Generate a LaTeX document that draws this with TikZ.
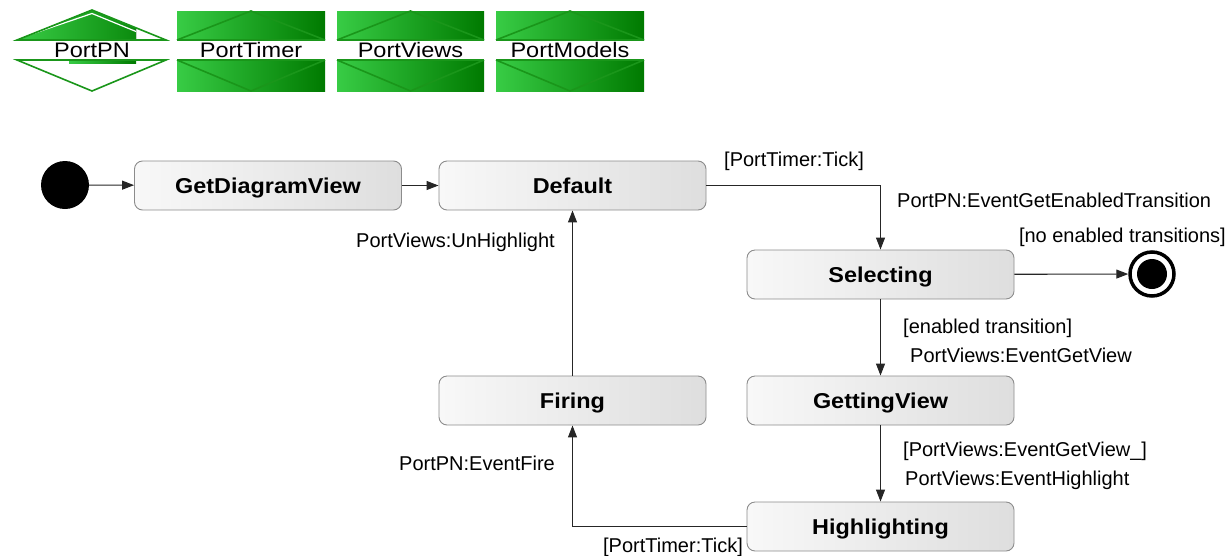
\documentclass[tikz,border=0pt]{standalone}
\usepackage{fontspec}
\setmainfont{Liberation Sans}
\usetikzlibrary{arrows.meta}

\definecolor{portlight}{HTML}{38CC45}
\definecolor{portdark}{HTML}{007A00}
\definecolor{portline}{HTML}{1A961A}
\definecolor{statelight}{HTML}{F8F8F8}
\definecolor{statedark}{HTML}{DEDEDE}
\definecolor{stateline}{HTML}{8C8C8C}

\begin{document}
\begin{tikzpicture}[x=1pt,y=-1pt,
  state/.style={draw=stateline, line width=0.9pt, rounded corners=8pt,
    left color=statelight, right color=statedark,
    minimum width=267pt, minimum height=49pt, inner sep=0pt,
    text height=15.5pt, text depth=0pt,
    font=\fontsize{21.5}{25}\selectfont\bfseries\addfontfeature{FakeStretch=1.09}},
  lbl/.style={font=\fontsize{20}{24}\selectfont, inner sep=0pt},
  trans/.style={draw=black!85, line width=1.1pt,
    -{Triangle[length=12pt,width=9pt]}},
  portfill/.style={left color=portlight, right color=portdark},
  portedge/.style={draw=portline, line width=1.6pt},
  portlbl/.style={font=\fontsize{21}{26}\selectfont\addfontfeature{FakeStretch=1.12},
    inner sep=0pt, text height=15pt, text depth=0pt}
]
\useasboundingbox (0,0) rectangle (1229,555);

% ---- port symbols ----
% PortPN: outlined diamond split by a white band
\begin{scope}
  \clip (17,8) rectangle (136,41);
  \fill[portfill] (17,40) -- (92,10) -- (166,40) -- cycle;
\end{scope}
\draw[white, line width=1.2pt] (23,37) -- (92,13.5) -- (136,31.5);
\fill[portfill] (69,60) rectangle (136,63);
\draw[portedge] (17,40) -- (92,10) -- (166,40) -- cycle;
\draw[portedge] (17,60) -- (166,60) -- (92,91) -- cycle;
\node[portlbl] (PortPN) at (92,50) {PortPN};

% shaded ports with the diamond drawn inside
\foreach \xl/\xr/\name in {177/325/PortTimer, 337/484/PortViews, 496/644/PortModels} {
  \pgfmathsetmacro\xm{(\xl+\xr)/2}
  \fill[portfill] (\xl,11) rectangle (\xr,40);
  \fill[portfill] (\xl,60) rectangle (\xr,91);
  \draw[portedge] (\xl,40) -- (\xm,11) -- (\xr,40);
  \draw[portedge] (\xl,60) -- (\xm,91) -- (\xr,60);
  \draw[portedge, line width=1.2pt] (\xl,40) -- (\xr,40) (\xl,60) -- (\xr,60);
  \node[portlbl] (\name) at (\xm,50) {\name};
}

% ---- states ----
\node[circle, fill=black, minimum size=48pt, inner sep=0pt] (init) at (65,185) {};
\node[state] (getview) at (268,185.5) {GetDiagramView};
\node[state] (default) at (572.5,185.5) {Default};
\node[state] (selecting) at (880.5,274.5) {Selecting};
\node[state] (gettingview) at (880.5,400.5) {GettingView};
\node[state] (firing) at (572.5,400.5) {Firing};
\node[state] (highlighting) at (880.5,526.5) {Highlighting};
\node[circle, draw=black, line width=3.5pt, fill=white, minimum size=44pt,
  inner sep=0pt] (final) at (1152,274) {};
\node[circle, fill=black, minimum size=30pt, inner sep=0pt] (finaldot) at (final) {};

% ---- transitions ----
\draw[trans] (init) -- (getview);
\draw[trans] (getview) -- (default);
\draw[trans] (default.east) -| (selecting.north);
\draw[trans] (selecting) -- (final);
\draw[trans] (selecting) -- (gettingview);
\draw[trans] (gettingview) -- (highlighting);
\draw[trans] (highlighting.west) -| (firing.south);
\draw[trans] (firing) -- (default);

% ---- transition labels ----
\node[lbl, anchor=base west] (gTick1) at (724,166) {[PortTimer:Tick]};
\node[lbl, anchor=base west] (aEnabled) at (897,207) {PortPN:EventGetEnabledTransition};
\node[lbl, anchor=base east] (gNone) at (1226,242) {[no enabled transitions]};
\node[lbl, anchor=base west] (gEnabled) at (903,333) {[enabled transition]};
\node[lbl, anchor=base west] (aGetView) at (910,362) {PortViews:EventGetView};
\node[lbl, anchor=base west] (gGetView) at (903,456) {[PortViews:EventGetView\_]};
\node[lbl, anchor=base west] (aHighlight) at (905,485) {PortViews:EventHighlight};
\node[lbl, anchor=base east] (aUnHighlight) at (555,247) {PortViews:UnHighlight};
\node[lbl, anchor=base east] (aFire) at (555,470) {PortPN:EventFire};
\node[lbl, anchor=base east] (gTick2) at (743,552) {[PortTimer:Tick]};
\end{tikzpicture}
\end{document}
